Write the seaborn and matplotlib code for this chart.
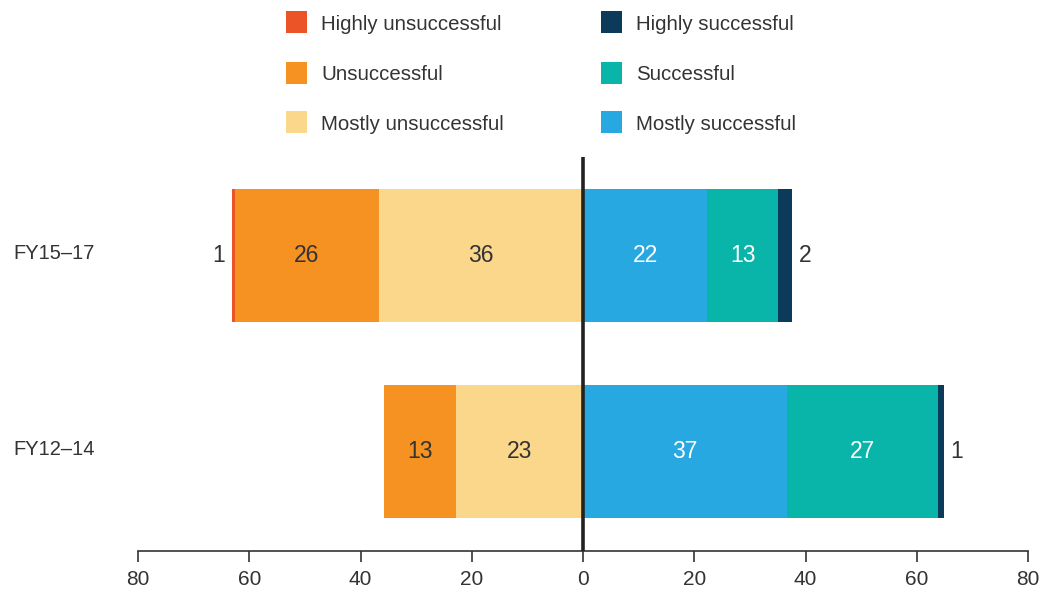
import matplotlib
matplotlib.use("Agg")
import matplotlib.pyplot as plt
import matplotlib.transforms as mtransforms
from matplotlib.patches import Rectangle
import seaborn as sns
import pandas as pd

# ---- data ----
periods = ["FY15\u201317", "FY12\u201314"]
highly_unsuccessful = [0.5, 0.0]
unsuccessful = [25.9, 12.9]
mostly_unsuccessful = [36.7, 22.8]
mostly_successful = [22.3, 36.7]
successful = [12.8, 27.1]
highly_successful = [2.5, 1.1]

# labels as printed in the chart
lab_highly_unsuccessful = ["1", ""]
lab_unsuccessful = ["26", "13"]
lab_mostly_unsuccessful = ["36", "23"]
lab_mostly_successful = ["22", "37"]
lab_successful = ["13", "27"]
lab_highly_successful = ["2", "1"]

legend_left = ["Highly unsuccessful", "Unsuccessful", "Mostly unsuccessful"]
legend_right = ["Highly successful", "Successful", "Mostly successful"]
xticks = [-80, -60, -40, -20, 0, 20, 40, 60, 80]
xtick_labels = ["80", "60", "40", "20", "0", "20", "40", "60", "80"]

c_hu = "#EA5427"
c_u = "#F59222"
c_mu = "#FBD78C"
c_hs = "#0B3A5A"
c_s = "#09B5A8"
c_ms = "#27A8E0"

sns.set_theme(style="white")
plt.rcParams["font.family"] = ["Liberation Sans", "DejaVu Sans"]
TXT = "#333333"
FS_BAR = 16.5

df = pd.DataFrame({
    "period": periods,
    "hu": highly_unsuccessful, "u": unsuccessful, "mu": mostly_unsuccessful,
    "ms": mostly_successful, "s": successful, "hs": highly_successful,
})
df["l1"] = -df["mu"]
df["l2"] = -(df["mu"] + df["u"])
df["l3"] = -(df["mu"] + df["u"] + df["hu"])
df["r1"] = df["ms"]
df["r2"] = df["ms"] + df["s"]
df["r3"] = df["ms"] + df["s"] + df["hs"]

fig = plt.figure(figsize=(10.5, 5.92), dpi=100)
ax = fig.add_axes([138 / 1050, 1 - 551 / 592, 890 / 1050, (551 - 157) / 592])

BW = 0.68
for col, color in [("l3", c_hu), ("l2", c_u), ("l1", c_mu),
                   ("r3", c_hs), ("r2", c_s), ("r1", c_ms)]:
    sns.barplot(data=df, y="period", x=col, order=periods, orient="h",
                color=color, saturation=1, width=BW, linewidth=0,
                errorbar=None, ax=ax)

ax.set_xlim(-80, 80)
ax.set_ylim(1.5077, -0.5026)
ax.axvline(0, color="#222222", lw=2.6, zorder=10)

for sp in ["top", "right", "left"]:
    ax.spines[sp].set_visible(False)
ax.spines["bottom"].set_color(TXT)
ax.spines["bottom"].set_linewidth(1.2)
ax.set_xticks(xticks)
ax.set_xticklabels(xtick_labels, fontsize=15, color=TXT)
ax.tick_params(axis="x", direction="out", length=8, width=1.2, color=TXT,
               pad=6, bottom=True)
ax.set_yticks([])
ax.set_xlabel("")
ax.set_ylabel("")

# category labels at left
tr = mtransforms.blended_transform_factory(fig.transFigure, ax.transData)
for i, p in enumerate(periods):
    ax.text(13 / 1050, i - 0.01, p, transform=tr, ha="left", va="center",
            fontsize=14.5, color=TXT)

# segment labels
for i in range(len(periods)):
    mu, u, hu = mostly_unsuccessful[i], unsuccessful[i], highly_unsuccessful[i]
    ms, s, hs = mostly_successful[i], successful[i], highly_successful[i]
    ax.text(-mu / 2, i, lab_mostly_unsuccessful[i], ha="center", va="center",
            fontsize=FS_BAR, color=TXT)
    ax.text(-(mu + u / 2), i, lab_unsuccessful[i], ha="center", va="center",
            fontsize=FS_BAR, color=TXT)
    if lab_highly_unsuccessful[i]:
        ax.text(-(mu + u + hu) - 1.3, i, lab_highly_unsuccessful[i], ha="right",
                va="center", fontsize=FS_BAR, color=TXT)
    ax.text(ms / 2, i, lab_mostly_successful[i], ha="center", va="center",
            fontsize=FS_BAR, color="white")
    ax.text(ms + s / 2, i, lab_successful[i], ha="center", va="center",
            fontsize=FS_BAR, color="white")
    ax.text(ms + s + hs + 1.2, i, lab_highly_successful[i], ha="left",
            va="center", fontsize=FS_BAR, color=TXT)

# legend (two columns, three rows)
row_y = [22, 73, 122]
for col_x, names, colors in [(286, legend_left, [c_hu, c_u, c_mu]),
                             (601, legend_right, [c_hs, c_s, c_ms])]:
    for yc, name, color in zip(row_y, names, colors):
        fig.add_artist(Rectangle((col_x / 1050, 1 - (yc + 11) / 592),
                                 21 / 1050, 22 / 592, transform=fig.transFigure,
                                 facecolor=color, edgecolor="none"))
        fig.text((col_x + 35) / 1050, 1 - (yc + 2) / 592, name, ha="left",
                 va="center", fontsize=14.7, color=TXT)

fig.savefig("out.png", dpi=100)
